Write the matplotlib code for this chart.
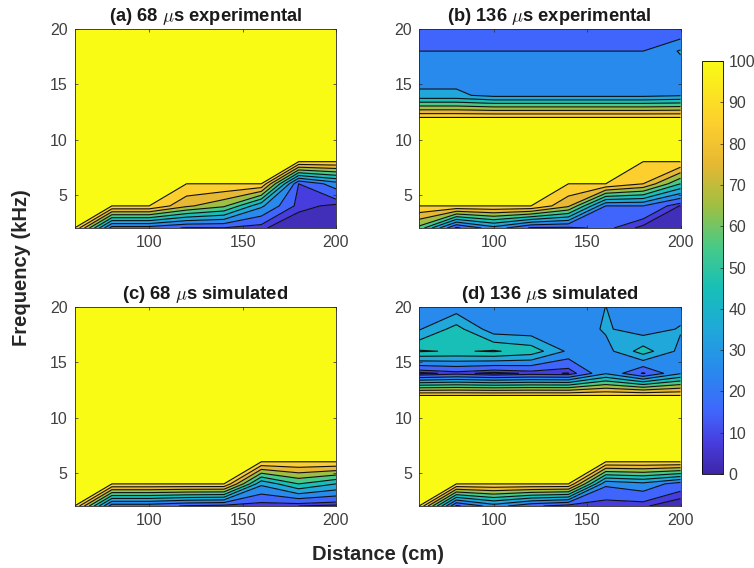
import numpy as np
import matplotlib
matplotlib.use('Agg')
import matplotlib.pyplot as plt
from matplotlib.cm import ScalarMappable
from matplotlib.colors import LinearSegmentedColormap, Normalize

plt.rcParams['font.family'] = ['Liberation Sans', 'DejaVu Sans']
plt.rcParams['mathtext.fontset'] = 'cm'

distance = [60, 80, 100, 120, 140, 160, 180, 200]
frequency = [2, 4, 6, 8, 10, 12, 14, 16, 18, 20]

# rows go from 2 kHz up to 20 kHz
exp_68 = [
    [90, 15, 15, 9, 9.5, 6, 0, 0],
    [100, 90, 90, 72, 62, 32, 7, 3.5],
    [100, 100, 100, 90, 90, 90, 10, 25],
    [100, 100, 100, 100, 100, 100, 90, 90],
    [100, 100, 100, 100, 100, 100, 100, 100],
    [100, 100, 100, 100, 100, 100, 100, 100],
    [100, 100, 100, 100, 100, 100, 100, 100],
    [100, 100, 100, 100, 100, 100, 100, 100],
    [100, 100, 100, 100, 100, 100, 100, 100],
    [100, 100, 100, 100, 100, 100, 100, 100],
]
exp_136 = [
    [57, 8, 26, 8.5, 8, 12, 3, 0],
    [90, 90, 90, 90, 72, 20, 20, 4.5],
    [100, 100, 100, 100, 90, 90, 80, 50],
    [100, 100, 100, 100, 100, 100, 90, 90],
    [100, 100, 100, 100, 100, 100, 100, 100],
    [90, 90, 90, 90, 90, 90, 90, 90],
    [32, 32, 27, 27, 27, 27, 27, 29],
    [25, 25, 25, 25, 25, 25, 25, 25],
    [20, 20, 20, 20, 20, 20, 20, 31],
    [15, 15, 15, 15, 15, 15, 15, 11],
]
sim_68 = [
    [90, 14, 14, 9, 7, 6, 5, 3.5],
    [100, 90, 90, 90, 90, 32, 50, 40],
    [100, 100, 100, 100, 100, 90, 90, 90],
    [100, 100, 100, 100, 100, 100, 100, 100],
    [100, 100, 100, 100, 100, 100, 100, 100],
    [100, 100, 100, 100, 100, 100, 100, 100],
    [100, 100, 100, 100, 100, 100, 100, 100],
    [100, 100, 100, 100, 100, 100, 100, 100],
    [100, 100, 100, 100, 100, 100, 100, 100],
    [100, 100, 100, 100, 100, 100, 100, 100],
]
sim_136 = [
    [90, 8, 25, 12, 6, 5.5, 6, 0],
    [100, 90, 90, 90, 90, 22, 27, 15],
    [100, 100, 100, 100, 100, 90, 90, 90],
    [100, 100, 100, 100, 100, 100, 100, 100],
    [100, 100, 100, 100, 100, 100, 100, 100],
    [90, 90, 90, 90, 90, 90, 90, 90],
    [3, 7, 3, 6, 4.8, 29, 9, 29],
    [51, 49, 51, 46, 28, 26, 45, 27],
    [29, 44, 24, 23, 22, 31.5, 24, 31],
    [22, 24, 22, 22, 22, 30.1, 22, 25],
]

titles = ['(a) 68 $\\mu$s experimental', '(b) 136 $\\mu$s experimental',
          '(c) 68 $\\mu$s simulated', '(d) 136 $\\mu$s simulated']
fill_levels = [0, 5, 10, 20, 30, 40, 50, 60, 70, 80, 90, 100.5]
line_levels = [5, 10, 20, 30, 40, 50, 60, 70, 80, 90]

# approximation of the parula colormap
parula = LinearSegmentedColormap.from_list('parula', [
    (0.0, (0.2422, 0.1504, 0.6603)),
    (0.075, (0.28, 0.24, 0.87)),
    (0.15, (0.25, 0.40, 0.99)),
    (0.25, (0.16, 0.54, 0.93)),
    (0.35, (0.12, 0.66, 0.85)),
    (0.45, (0.09, 0.75, 0.72)),
    (0.55, (0.28, 0.79, 0.53)),
    (0.65, (0.62, 0.75, 0.26)),
    (0.75, (0.90, 0.72, 0.20)),
    (0.85, (0.99, 0.81, 0.18)),
    (1.0, (0.9769, 0.9839, 0.0805)),
], N=256)
norm = Normalize(0, 100)

# each band takes the colour of its middle, the top band is full yellow
band_colors = [parula(norm((a + b) / 2)) for a, b in zip(fill_levels[:-1], fill_levels[1:])]
band_colors[-1] = parula(1.0)

W, H = 754, 568
fig = plt.figure(figsize=(W / 100, H / 100), dpi=100)

# left, top, right, bottom in pixels
boxes = [(74.5, 29, 336, 228), (419, 29, 680.5, 228),
         (74.5, 307, 336, 506), (419, 307, 680.5, 506)]

for box, data, title in zip(boxes, [exp_68, exp_136, sim_68, sim_136], titles):
    l, t, r, b = box
    ax = fig.add_axes([l / W, 1 - b / H, (r - l) / W, (b - t) / H])
    z = np.array(data, dtype=float)
    ax.contourf(distance, frequency, z, levels=fill_levels, colors=band_colors)
    ax.contour(distance, frequency, z, levels=line_levels, colors='#101018', linewidths=0.8)
    ax.set_xlim(60, 200)
    ax.set_ylim(2, 20)
    ax.set_xticks([100, 150, 200])
    ax.set_yticks([5, 10, 15, 20])
    ax.tick_params(direction='in', top=True, right=True, length=2.2, width=0.5,
                   labelsize=11.5, colors='#262626', labelcolor='#404040', pad=5)
    for s in ax.spines.values():
        s.set_linewidth(0.6)
        s.set_color('#262626')
    ax.set_title(title, fontsize=13.2, fontweight='bold', color='#1a1a1a', pad=5.5)

cax = fig.add_axes([702 / W, 1 - 474 / H, 21 / W, 413 / H])
cb = fig.colorbar(ScalarMappable(norm=norm, cmap=parula), cax=cax)
cb.set_ticks(list(range(0, 101, 10)))
cb.ax.tick_params(direction='in', length=2.2, width=0.5, labelsize=11.5,
                  colors='#262626', labelcolor='#404040', pad=4)
cb.outline.set_linewidth(0.6)

fig.text(378 / W, 1 - 554 / H, 'Distance (cm)', fontsize=14.5, fontweight='bold',
         color='#262626', ha='center', va='center')
fig.text(22 / W, 1 - 268 / H, 'Frequency (kHz)', fontsize=14.5, fontweight='bold',
         color='#262626', ha='center', va='center', rotation=90)

fig.savefig('out.png', dpi=100)
